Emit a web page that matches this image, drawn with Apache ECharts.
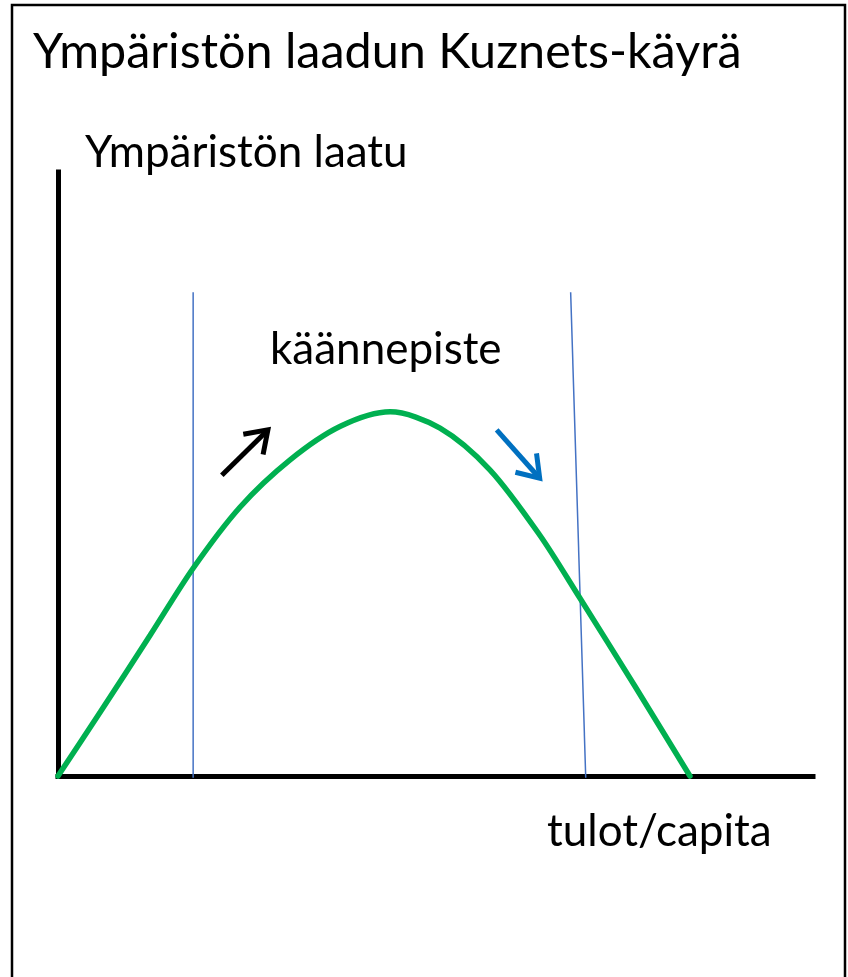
<!DOCTYPE html>
<html>
<head>
<meta charset="utf-8">
<title>Kuznets</title>
<script src="https://cdn.jsdelivr.net/npm/echarts@6/dist/echarts.min.js"></script>
<style>
  html, body { margin: 0; padding: 0; background: #fff; }
  #main { width: 848px; height: 977px; }
</style>
</head>
<body>
<div id="main"></div>
<script type="text/javascript">
// curve (x = income, y = environmental quality, 0..100 scale)
var curveX = [0, 5.6, 12.2, 17.9, 24.1, 30.7, 37.4, 44.0, 50.6, 57.2, 63.8, 69.1, 76.4, 83.7];
var curveY = [0, 10.6, 23.3, 34.4, 44.5, 52.3, 57.9, 60.3, 57.6, 50.7, 39.9, 29.5, 14.9, 0];

// two thin vertical guide lines: [xTop, yTop, xBottom, yBottom]
var guides = [
  [17.9, 80.1, 17.9, -0.3],
  [67.9, 80.1, 69.9, -0.3]
];

// arrows: [xStart, yStart, xEnd, yEnd]
var arrows = [
  [21.7, 49.8, 27.8, 57.3],
  [58.1, 57.3, 63.8, 49.3]
];
var arrowColors = ['#000000', '#0070C0'];

var titleText = 'Ympäristön laadun Kuznets-käyrä';
var yName = 'Ympäristön laatu';
var xName = 'tulot/capita';
var peakLabel = 'käännepiste';

var myChart = echarts.init(document.getElementById('main'));

var series = [];

guides.forEach(function (g) {
  series.push({
    type: 'line',
    data: [[g[0], g[1]], [g[2], g[3]]],
    symbol: 'none',
    silent: true,
    clip: false,
    lineStyle: { color: '#4472C4', width: 1.5 },
    z: 2
  });
});

series.push({
  type: 'line',
  data: curveX.map(function (x, i) { return [x, curveY[i]]; }),
  smooth: 0.3,
  symbol: 'none',
  clip: false,
  lineStyle: { color: '#00B050', width: 5.5, cap: 'round' },
  z: 3
});

series.push({
  type: 'custom',
  data: arrows,
  clip: false,
  z: 4,
  renderItem: function (params, api) {
    var p1 = api.coord([api.value(0), api.value(1)]);
    var p2 = api.coord([api.value(2), api.value(3)]);
    var ang = Math.atan2(p2[1] - p1[1], p2[0] - p1[0]);
    var len = 25, spread = 0.6;
    var a1 = [p2[0] - len * Math.cos(ang - spread), p2[1] - len * Math.sin(ang - spread)];
    var a2 = [p2[0] - len * Math.cos(ang + spread), p2[1] - len * Math.sin(ang + spread)];
    var col = arrowColors[params.dataIndex];
    return {
      type: 'group',
      children: [
        { type: 'line', shape: { x1: p1[0], y1: p1[1], x2: p2[0], y2: p2[1] },
          style: { stroke: col, lineWidth: 5 } },
        { type: 'polyline', shape: { points: [a1, p2, a2] },
          style: { stroke: col, lineWidth: 5, fill: null, lineJoin: 'miter' } }
      ]
    };
  }
});

var font = 'Lato, "Open Sans", sans-serif';

myChart.setOption({
  backgroundColor: '#ffffff',
  animation: false,
  grid: { left: 58, right: 35, top: 172, bottom: 201, containLabel: false },
  xAxis: {
    type: 'value', min: 0, max: 100,
    axisLine: { show: true, onZero: false, lineStyle: { color: '#000', width: 5, cap: 'square' } },
    axisTick: { show: false }, axisLabel: { show: false }, splitLine: { show: false }
  },
  yAxis: {
    type: 'value', min: 0, max: 100,
    axisLine: { show: true, onZero: false, lineStyle: { color: '#000', width: 5, cap: 'square' } },
    axisTick: { show: false }, axisLabel: { show: false }, splitLine: { show: false }
  },
  graphic: [
    { type: 'rect', shape: { x: 12, y: 5, width: 833, height: 1000 },
      style: { fill: null, stroke: '#000', lineWidth: 2.5 }, silent: true },
    { type: 'text', x: 33, y: 52,
      style: { text: titleText, font: '48.5px ' + font, fill: '#000', verticalAlign: 'middle' } },
    { type: 'text', x: 85, y: 153,
      style: { text: yName, font: '44px ' + font, fill: '#000', verticalAlign: 'middle' } },
    { type: 'text', x: 270, y: 350,
      style: { text: peakLabel, font: '44px ' + font, fill: '#000', verticalAlign: 'middle' } },
    { type: 'text', x: 547, y: 832,
      style: { text: xName, font: '44px ' + font, fill: '#000', verticalAlign: 'middle' } }
  ],
  series: series
});
</script>
</body>
</html>
